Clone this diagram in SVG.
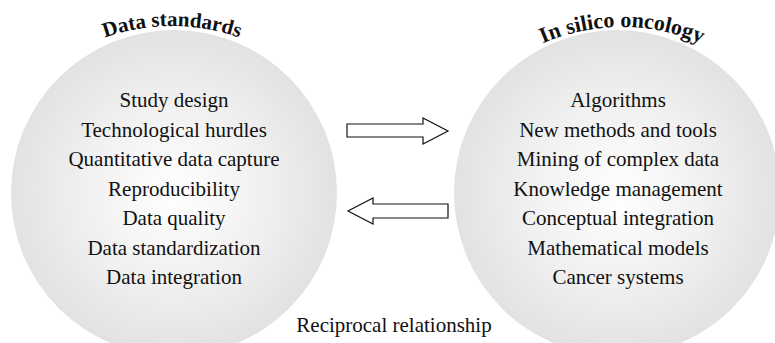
<svg xmlns="http://www.w3.org/2000/svg" width="775" height="343" viewBox="0 0 775 343">
<defs>
<radialGradient id="g" cx="0.5" cy="0.5" r="0.5">
<stop offset="0" stop-color="#ffffff"/>
<stop offset="0.6" stop-color="#efefef"/>
<stop offset="1" stop-color="#e2e2e2"/>
</radialGradient>
<path id="arcL" d="M -28 226 A 200 200 0 0 1 372 226"/>
<path id="arcR" d="M 422 227 A 200 200 0 0 1 822 227"/>
</defs>
<style>
.t{font-family:"Liberation Serif","Times New Roman",serif;font-size:21px;fill:#111;text-anchor:middle}
.h{font-family:"Liberation Serif","Times New Roman",serif;font-size:21px;font-weight:bold;fill:#111;text-anchor:middle}
.arr{fill:#fff;stroke:#111;stroke-width:1.2;stroke-linejoin:miter}
</style>
<rect width="775" height="343" fill="#fff"/>
<g id="data-standards">
<circle cx="174" cy="193" r="163" fill="url(#g)"/>
<text class="h"><textPath href="#arcL" startOffset="50%">Data standards</textPath></text>
<text class="t" x="174" y="107">Study design</text>
<text class="t" x="174" y="136.5">Technological hurdles</text>
<text class="t" x="174" y="166">Quantitative data capture</text>
<text class="t" x="174" y="195.5">Reproducibility</text>
<text class="t" x="174" y="225">Data quality</text>
<text class="t" x="174" y="254.5">Data standardization</text>
<text class="t" x="174" y="284">Data integration</text>
</g>
<g id="in-silico-oncology">
<circle cx="617" cy="193" r="163" fill="url(#g)"/>
<text class="h" style="font-size:22px"><textPath href="#arcR" startOffset="50%">In silico oncology</textPath></text>
<text class="t" x="618" y="107">Algorithms</text>
<text class="t" x="618" y="136.5">New methods and tools</text>
<text class="t" x="618" y="166">Mining of complex data</text>
<text class="t" x="618" y="195.5">Knowledge management</text>
<text class="t" x="618" y="225">Conceptual integration</text>
<text class="t" x="618" y="254.5">Mathematical models</text>
<text class="t" x="618" y="284">Cancer systems</text>
</g>
<g id="connectors">
<polygon class="arr" points="347,124 423,124 423,118 448,131 423,144 423,137 347,137"/>
<polygon class="arr" points="448,204 373,204 373,198 348,211 373,224 373,218 448,218"/>
<text class="t" x="394" y="332">Reciprocal relationship</text>
</g>
</svg>
